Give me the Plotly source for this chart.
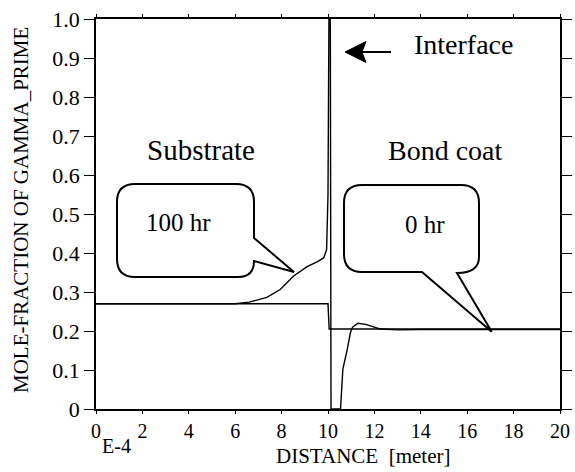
import plotly.graph_objects as go

# ---- data (x in units of 1E-4 m) ----
x_0hr = [0.0, 10.0, 10.05, 20.0]
y_0hr = [0.27, 0.27, 0.205, 0.205]

x_100hr = [0.0, 6.0, 6.6, 7.37, 7.95, 8.52, 9.10, 9.55, 9.82, 9.94, 10.0, 10.04, 10.10, 10.13,
           10.54, 10.58, 10.64, 10.83, 10.97, 11.06, 11.29, 11.62, 12.27, 13.0, 14.0, 20.0]
y_100hr = [0.27, 0.27, 0.274, 0.286, 0.307, 0.341, 0.365, 0.378, 0.388, 0.409, 0.55, 1.0, 1.0, 0.0,
           0.0, 0.05, 0.102, 0.153, 0.197, 0.21, 0.220, 0.217, 0.205, 0.203, 0.204, 0.204]

x_ticks = [0, 2, 4, 6, 8, 10, 12, 14, 16, 18, 20]
x_ticklabels = ["0", "2", "4", "6", "8", "10", "12", "14", "16", "18", "20"]
y_ticks = [0, 0.1, 0.2, 0.3, 0.4, 0.5, 0.6, 0.7, 0.8, 0.9, 1.0]
y_ticklabels = ["0", "0.1", "0.2", "0.3", "0.4", "0.5", "0.6", "0.7", "0.8", "0.9", "1.0"]

FONT = "Liberation Serif, Times New Roman, serif"
W, H = 575, 472
ML, MR, MT, MB = 96, 15, 19, 63
PW, PH = W - ML - MR, H - MT - MB


def X(px):
    return (px - ML) / PW * 20.0


def Y(py):
    return (H - MB - py) / PH * 1.0


def PX(px):
    return (px - ML) / PW


def PY(py):
    return (H - MB - py) / PH


def path(points_cmds):
    s = ""
    for c in points_cmds:
        cmd = c[0]
        pts = c[1:]
        s += cmd + " " + " ".join(f"{X(p[0]):.4f},{Y(p[1]):.4f}" for p in pts) + " "
    return s + "Z"


fig = go.Figure()
fig.add_trace(go.Scatter(x=x_0hr, y=y_0hr, mode="lines", name="0 hr",
                         line=dict(color="black", width=1.4)))
fig.add_trace(go.Scatter(x=x_100hr, y=y_100hr, mode="lines", name="100 hr",
                         line=dict(color="black", width=1.4)))

# callout 1
L, T, R, B, r = 117, 184, 254, 277, 18
c1 = path([("M", (L + r, T)), ("L", (R - r, T)), ("Q", (R, T), (R, T + r)), ("L", (R, 238)),
           ("L", (294, 272)), ("L", (R, 261)), ("Q", (R, B), (R - 16, B)), ("L", (L + r, B)),
           ("Q", (L, B), (L, B - r)), ("L", (L, T + r)), ("Q", (L, T), (L + r, T))])
# callout 2
L, T, R, B, r = 344, 185, 479, 272, 18
c2 = path([("M", (L + r, T)), ("L", (R - r, T)), ("Q", (R, T), (R, T + r)), ("L", (R, 257)),
           ("Q", (R, 273), (457, 273)), ("L", (491.7, 331.7)), ("L", (422, 272)),
           ("L", (L + r, B)), ("Q", (L, B), (L, B - r)), ("L", (L, T + r)),
           ("Q", (L, T), (L + r, T))])
arrow_head = path([("M", (345, 52)), ("L", (366, 41.5)), ("L", (362, 52)), ("L", (366, 62.5))])

shapes = [
    dict(type="path", xref="x", yref="y", path=c1, line=dict(color="black", width=2),
         fillcolor="white", layer="above"),
    dict(type="path", xref="x", yref="y", path=c2, line=dict(color="black", width=2),
         fillcolor="white", layer="above"),
    dict(type="line", xref="x", yref="y", x0=X(362), y0=Y(52), x1=X(391), y1=Y(52),
         line=dict(color="black", width=2)),
    dict(type="path", xref="x", yref="y", path=arrow_head, line=dict(color="black", width=1),
         fillcolor="black"),
]

annotations = [
    dict(x=PX(201), y=PY(150), text="Substrate", font=dict(size=29)),
    dict(x=PX(445), y=PY(150), text="Bond coat", font=dict(size=28)),
    dict(x=PX(463), y=PY(45), text="Interface", font=dict(size=28)),
    dict(x=PX(178), y=PY(223), text="100 hr", font=dict(size=25)),
    dict(x=PX(425), y=PY(224), text="0 hr", font=dict(size=25)),
    dict(x=PX(116), y=PY(446), text="E-4", font=dict(size=20)),
    dict(x=PX(363), y=PY(456), text="DISTANCE\u00a0\u00a0[meter]", font=dict(size=21)),
    dict(x=PX(21), y=PY(210), text="MOLE-FRACTION OF GAMMA_PRIME", font=dict(size=21),
         textangle=-90),
]
for a in annotations:
    a.update(xref="paper", yref="paper", showarrow=False, xanchor="center", yanchor="middle")
    a["font"].update(family=FONT, color="black")

fig.update_layout(
    width=W, height=H,
    margin=dict(l=ML, r=MR, t=MT, b=MB, autoexpand=False),
    paper_bgcolor="white", plot_bgcolor="white",
    showlegend=False,
    shapes=shapes, annotations=annotations,
    font=dict(family=FONT, color="black"),
)
fig.update_xaxes(range=[0, 20], tickvals=x_ticks, ticktext=x_ticklabels, automargin=False,
                 showgrid=False, zeroline=False, showline=True, linecolor="black", linewidth=1.5,
                 mirror="ticks", ticks="outside", ticklen=3, tickwidth=1.2, tickcolor="black",
                 tickfont=dict(family=FONT, size=20, color="black"))
fig.update_yaxes(range=[0, 1.0], tickvals=y_ticks, ticktext=y_ticklabels, automargin=False,
                 showgrid=False, zeroline=False, showline=True, linecolor="black", linewidth=1.5,
                 mirror="ticks", ticks="outside", ticklen=10, tickwidth=1.2, tickcolor="black",
                 tickfont=dict(family=FONT, size=22, color="black"))

fig.write_html("out.html")
